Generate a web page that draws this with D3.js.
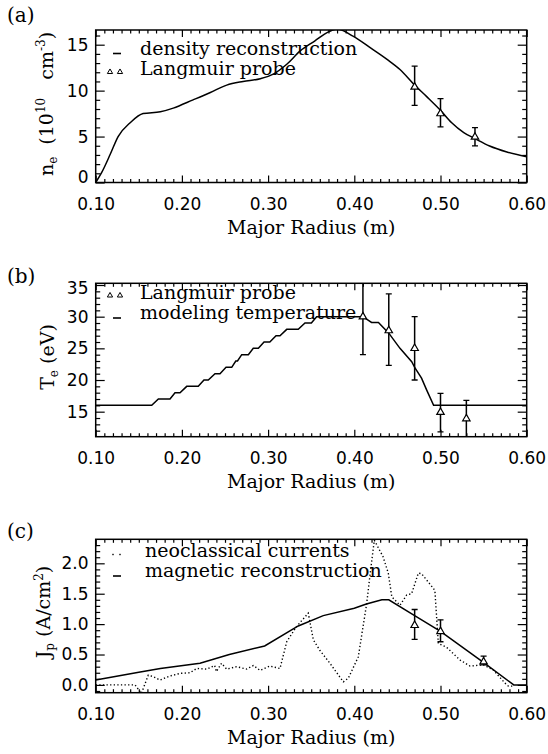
<!DOCTYPE html>
<html>
<head>
<meta charset="utf-8">
<script src="https://cdn.jsdelivr.net/npm/d3@7"></script>
<style>
  body { margin: 0; background: #fff; }
  svg { display: block; }
  .serif { font-family: "DejaVu Serif", serif; font-size: 19px; }
  .tick text { font-family: "DejaVu Sans", sans-serif; font-size: 17px; }
  .tick line { stroke-width: 1.2; }
</style>
</head>
<body>
<div id="chart"></div>
<script>
// shared x axis
const xTicks = [0.1, 0.2, 0.3, 0.4, 0.5, 0.6];
const xTickLabels = ["0.10", "0.20", "0.30", "0.40", "0.50", "0.60"];

// panel (a): density
const neR = [0.100, 0.107, 0.117, 0.126, 0.140, 0.155, 0.175, 0.190, 0.213, 0.233, 0.252, 0.271, 0.291, 0.306, 0.322, 0.337, 0.354, 0.370, 0.380, 0.399, 0.418, 0.438, 0.453, 0.470, 0.484, 0.500, 0.513, 0.527, 0.540, 0.557, 0.577, 0.600];
const neV = [0.0, 1.1, 3.1, 5.0, 6.5, 7.5, 7.7, 8.1, 9.0, 9.8, 10.6, 11.0, 11.3, 11.8, 12.9, 14.3, 15.4, 16.4, 16.7, 15.9, 14.7, 13.4, 12.3, 10.6, 9.35, 7.86, 6.5, 5.43, 4.78, 3.98, 3.33, 2.8];
const probeR_a = [0.47, 0.50, 0.54];
const probeNe = [10.4, 7.5, 4.95];
const probeNeLo = [8.4, 6.05, 3.98];
const probeNeHi = [12.67, 9.13, 5.98];
const yTicksA = [0, 5, 10, 15];
const yLabelsA = ["0", "5", "10", "15"];

// panel (b): temperature
const teR = [0.100, 0.165, 0.1727, 0.1862, 0.192, 0.1978, 0.2056, 0.219, 0.2256, 0.2306, 0.2384, 0.2442, 0.2512, 0.2578, 0.2625, 0.2645, 0.2694, 0.2771, 0.2828, 0.2887, 0.2953, 0.302, 0.3092, 0.3138, 0.3216, 0.335, 0.3428, 0.3502, 0.3563, 0.410, 0.420, 0.428, 0.440, 0.453, 0.4666, 0.4704, 0.478, 0.484, 0.492, 0.600];
const teV = [16, 16, 17, 17, 18, 18, 19, 19, 20, 20, 21, 21, 22, 22, 23, 23, 24, 24, 25, 25, 26, 26, 27, 27, 28, 28, 29, 29, 30, 30, 29.1, 29.1, 27.4, 25.0, 22.9, 21.9, 20.3, 18.4, 16, 16];
const probeR_b = [0.41, 0.44, 0.47, 0.50, 0.53];
const probeTe = [30, 27.8, 25, 14.9, 13.9];
const probeTeLo = [24, 22.3, 20, 11.8, 10.9];
const probeTeHi = [36, 33.6, 30, 17.9, 16.8];
const yTicksB = [15, 20, 25, 30, 35];
const yLabelsB = ["15", "20", "25", "30", "35"];

// panel (c): current density
const magR = [0.100, 0.150, 0.175, 0.221, 0.255, 0.296, 0.335, 0.364, 0.400, 0.414, 0.432, 0.440, 0.470, 0.500, 0.549, 0.585, 0.600];
const magV = [0.08, 0.21, 0.27, 0.355, 0.50, 0.64, 0.97, 1.14, 1.26, 1.33, 1.40, 1.40, 1.14, 0.88, 0.38, 0.0, 0.0];
const neoR = [0.100, 0.1457, 0.153, 0.161, 0.167, 0.1746, 0.186, 0.198, 0.2094, 0.217, 0.2288, 0.238, 0.240, 0.246, 0.252, 0.2636, 0.275, 0.283, 0.2906, 0.302, 0.3138, 0.3216, 0.333, 0.3466, 0.3525, 0.360, 0.3718, 0.3873, 0.393, 0.4046, 0.4144, 0.418, 0.4232, 0.4333, 0.4394, 0.4435, 0.453, 0.4608, 0.4665, 0.4743, 0.478, 0.4916, 0.4935, 0.4975, 0.507, 0.5226, 0.5342, 0.5497, 0.5613, 0.5748, 0.5787, 0.585];
const neoV = [0.0, 0.0, -0.14, 0.16, 0.135, 0.08, 0.146, 0.19, 0.20, 0.27, 0.26, 0.32, 0.22, 0.355, 0.26, 0.30, 0.26, 0.32, 0.24, 0.31, 0.27, 0.71, 0.96, 1.18, 0.74, 0.57, 0.355, 0.05, 0.11, 0.46, 1.34, 1.78, 2.38, 2.11, 1.84, 1.45, 1.31, 1.48, 1.50, 1.84, 1.83, 1.59, 1.55, 0.68, 0.62, 0.41, 0.31, 0.33, 0.245, 0.03, -0.02, -0.02];
const probeR_c = [0.47, 0.50, 0.55];
const probeJ = [0.98, 0.88, 0.38];
const probeJLo = [0.75, 0.71, 0.33];
const probeJHi = [1.24, 1.07, 0.475];
const yTicksC = [0, 0.5, 1.0, 1.5, 2.0];
const yLabelsC = ["0.0", "0.5", "1.0", "1.5", "2.0"];

const W = 548, H = 754;
const left = 95.7, right = 526.7;

const svg = d3.select("#chart").append("svg")
  .attr("width", W)
  .attr("height", H);

const x = d3.scaleLinear().domain([0.1, 0.6]).range([left, right]);
const xMinor = d3.range(10, 61).map(d => d / 100).filter(d => Math.round(d * 100) % 10 !== 0);

// draws box, ticks and labels of one panel, returns its y scale
function panel(name, top, bottom, yDomain, yTicks, yLabels, yMinor) {
  const y = d3.scaleLinear().domain(yDomain).range([bottom, top]);
  const g = svg.append("g");

  svg.append("clipPath").attr("id", "clip-" + name)
    .append("rect")
    .attr("x", left).attr("y", top)
    .attr("width", right - left).attr("height", bottom - top);

  // bottom axis with labels
  g.append("g").attr("transform", `translate(0,${bottom})`)
    .call(d3.axisBottom(x).tickValues(xTicks).tickFormat((d, i) => xTickLabels[i])
      .tickSizeInner(-7).tickSizeOuter(0).tickPadding(15));
  g.append("g").attr("transform", `translate(0,${bottom})`)
    .call(d3.axisBottom(x).tickValues(xMinor).tickFormat("").tickSizeInner(-3.5).tickSizeOuter(0));
  // top axis
  g.append("g").attr("transform", `translate(0,${top})`)
    .call(d3.axisTop(x).tickValues(xTicks).tickFormat("").tickSizeInner(-7).tickSizeOuter(0));
  g.append("g").attr("transform", `translate(0,${top})`)
    .call(d3.axisTop(x).tickValues(xMinor).tickFormat("").tickSizeInner(-3.5).tickSizeOuter(0));
  // left axis with labels
  const yl = g.append("g").attr("transform", `translate(${left},0)`)
    .call(d3.axisLeft(y).tickValues(yTicks).tickFormat((d, i) => yLabels[i])
      .tickSizeInner(-9).tickSizeOuter(0).tickPadding(7.2));
  g.append("g").attr("transform", `translate(${left},0)`)
    .call(d3.axisLeft(y).tickValues(yMinor).tickFormat("").tickSizeInner(-4.5).tickSizeOuter(0));
  // right axis
  g.append("g").attr("transform", `translate(${right},0)`)
    .call(d3.axisRight(y).tickValues(yTicks).tickFormat("").tickSizeInner(-9).tickSizeOuter(0));
  g.append("g").attr("transform", `translate(${right},0)`)
    .call(d3.axisRight(y).tickValues(yMinor).tickFormat("").tickSizeInner(-4.5).tickSizeOuter(0));

  g.selectAll(".domain").remove();

  // keep end labels inside the box, as the original does
  yl.selectAll(".tick text").attr("y", d => {
    const p = y(d);
    if (p + 5 > bottom) return bottom - 5 - p;
    if (p - 5 < top) return top + 5 - p;
    return 0;
  });

  g.append("rect")
    .attr("x", left).attr("y", top)
    .attr("width", right - left).attr("height", bottom - top)
    .attr("fill", "none").attr("stroke", "black").attr("stroke-width", 1.5);

  svg.append("text").attr("class", "serif")
    .attr("x", (left + right) / 2).attr("y", bottom + 51)
    .attr("text-anchor", "middle")
    .text("Major Radius (m)");

  return y;
}

function curve(name, y, xs, ys, dotted, smooth) {
  const line = d3.line()
    .x(d => x(d[0]))
    .y(d => y(d[1]))
    .curve(smooth ? d3.curveMonotoneX : d3.curveLinear);
  svg.append("path")
    .datum(xs.map((d, i) => [d, ys[i]]))
    .attr("clip-path", `url(#clip-${name})`)
    .attr("d", line)
    .attr("fill", "none")
    .attr("stroke", "black")
    .attr("stroke-width", dotted ? 1.4 : 1.5)
    .attr("stroke-dasharray", dotted ? "1.3,2.3" : null);
}

const tri = d3.symbol().type(d3.symbolTriangle);

function probe(name, y, xs, vs, lo, hi) {
  const g = svg.append("g").attr("clip-path", `url(#clip-${name})`);
  xs.forEach((r, i) => {
    const cx = x(r);
    g.append("line")
      .attr("x1", cx).attr("x2", cx)
      .attr("y1", y(lo[i])).attr("y2", y(hi[i]))
      .attr("stroke", "black").attr("stroke-width", 1.5);
    [lo[i], hi[i]].forEach(v => {
      g.append("line")
        .attr("x1", cx - 3).attr("x2", cx + 3)
        .attr("y1", y(v)).attr("y2", y(v))
        .attr("stroke", "black").attr("stroke-width", 1.3);
    });
    g.append("path")
      .attr("d", tri.size(24)())
      .attr("transform", `translate(${cx},${y(vs[i])})`)
      .attr("fill", "white").attr("stroke", "black").attr("stroke-width", 1.2);
  });
}

// legend helpers
function legendText(tx, ty, s) {
  svg.append("text").attr("class", "serif").attr("x", tx).attr("y", ty).text(s);
}
function legendDash(ty) {
  svg.append("line").attr("x1", 113).attr("x2", 121).attr("y1", ty).attr("y2", ty)
    .attr("stroke", "black").attr("stroke-width", 1.6);
}
function legendTriangles(ty) {
  [110, 120].forEach(tx => {
    svg.append("path").attr("d", tri.size(12)())
      .attr("transform", `translate(${tx},${ty})`)
      .attr("fill", "none").attr("stroke", "black").attr("stroke-width", 1);
  });
}
function legendDots(ty) {
  [113, 120].forEach(tx => {
    svg.append("rect").attr("x", tx - 0.7).attr("y", ty - 0.7)
      .attr("width", 1.4).attr("height", 1.4).attr("fill", "black");
  });
}

function yTitle(tx, ty, parts) {
  const t = svg.append("text").attr("class", "serif")
    .attr("transform", `translate(${tx},${ty}) rotate(-90)`)
    .attr("text-anchor", "middle");
  parts.forEach(p => {
    t.append("tspan").attr("dy", p[1]).style("font-size", p[2] ? p[2] + "px" : null).text(p[0]);
  });
}

function panelLabel(ty, s) {
  svg.append("text").attr("class", "serif").style("font-size", "20px")
    .attr("x", 7).attr("y", ty).text(s);
}

// ---- panel (a)
const yA = panel("a", 30, 182.5, [0, 16.6], yTicksA, yLabelsA, d3.range(0, 17).filter(d => d % 5 !== 0));
curve("a", yA, neR, neV, false, true);
probe("a", yA, probeR_a, probeNe, probeNeLo, probeNeHi);
legendDash(53.5);
legendText(140, 54.5, "density reconstruction");
legendTriangles(72);
legendText(140, 74.5, "Langmuir probe");
yTitle(53, 104, [["n", 0], ["e", 4, 12], ["\u00a0 (10", -4], ["10", -8, 12], ["\u00a0\u00a0 cm", 8], ["-3", -8, 12], [")", 8]]);
panelLabel(22, "(a)");

// ---- panel (b)
const yB = panel("b", 283.3, 436.7, [11.05, 35.27], yTicksB, yLabelsB, d3.range(12, 36).filter(d => d % 5 !== 0));
curve("b", yB, teR, teV, false, false);
probe("b", yB, probeR_b, probeTe, probeTeLo, probeTeHi);
legendTriangles(295.5);
legendText(140, 298.5, "Langmuir probe");
legendDash(318);
legendText(140, 318.5, "modeling temperature");
yTitle(54, 357, [["T", 0], ["e", 4, 12], ["\u00a0(eV)", -4]]);
panelLabel(283, "(b)");

// ---- panel (c)
const yC = panel("c", 539.3, 692.7, [-0.128, 2.395], yTicksC, yLabelsC, d3.range(-1, 24).map(d => d / 10).filter(d => Math.round(d * 10) % 5 !== 0));
curve("c", yC, neoR, neoV, true, false);
curve("c", yC, magR, magV, false, false);
probe("c", yC, probeR_c, probeJ, probeJLo, probeJHi);
legendDots(554.5);
legendText(145, 557, "neoclassical currents");
legendDash(576);
legendText(145, 577, "magnetic reconstruction");
yTitle(50, 612, [["J", 0], ["p", 4, 12], ["\u00a0(A/cm", -4], ["2", -7, 12], [")", 7]]);
panelLabel(538, "(c)");
</script>
</body>
</html>
